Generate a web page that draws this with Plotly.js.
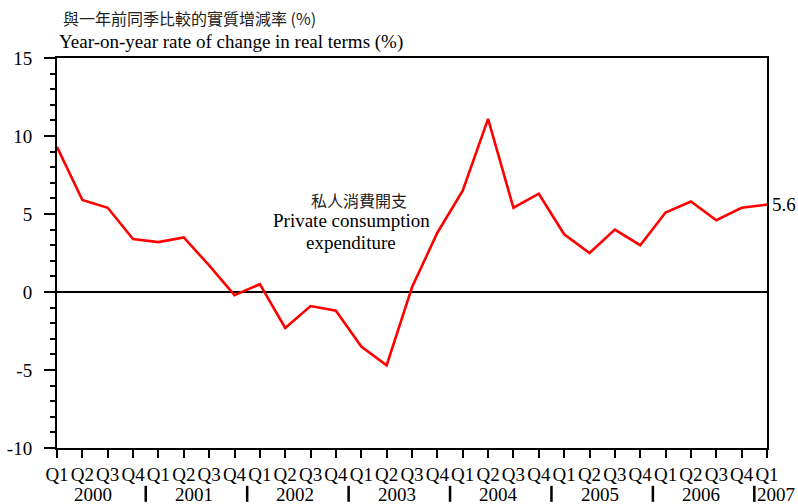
<!DOCTYPE html>
<html><head><meta charset="utf-8">
<script src="https://cdn.plot.ly/plotly-3.0.1.min.js"></script>
<style>body{margin:0;background:#fff}#c{width:798px;height:504px}</style>
</head><body><div id="c"></div>
<script>
const quarterLabels = ["Q1","Q2","Q3","Q4","Q1","Q2","Q3","Q4","Q1","Q2","Q3","Q4","Q1","Q2","Q3","Q4","Q1","Q2","Q3","Q4","Q1","Q2","Q3","Q4","Q1","Q2","Q3","Q4","Q1"];
const years = ["2000","2001","2002","2003","2004","2005","2006"];
const lastYear = "2007";
const values = [9.3,5.9,5.4,3.4,3.2,3.5,1.7,-0.2,0.5,-2.3,-0.9,-1.2,-3.5,-4.7,0.3,3.8,6.5,11.1,5.4,6.3,3.7,2.5,4.0,3.0,5.1,5.8,4.6,5.4,5.6];
const yTicks = [-10,-5,0,5,10,15];
const yTickText = ["-10","-5","0","5","10","15"];

const serif = "Liberation Serif";
const cjk = "Noto Sans CJK TC";
const idx = values.map((v,i)=>i);

const annotations = [
  {xref:'paper',yref:'paper',x:0.0,y:1.041,xanchor:'left',yanchor:'middle',showarrow:false,
   text:"Year-on-year rate of change in real terms (%)",font:{family:serif,size:19,color:'#000'}},
  {xref:'paper',yref:'paper',x:0.006,y:1.103,xanchor:'left',yanchor:'middle',showarrow:false,
   text:"與一年前同季比較的實質增減率 (%)",font:{family:cjk,size:16,color:'#222'}},
  {xref:'x',yref:'y',x:11.9,y:5.9,xanchor:'center',yanchor:'middle',showarrow:false,
   text:"私人消費開支",font:{family:cjk,size:16,color:'#222'}},
  {xref:'x',yref:'y',x:11.6,y:4.6,xanchor:'center',yanchor:'middle',showarrow:false,
   text:"Private consumption",font:{family:serif,size:19,color:'#000'}},
  {xref:'x',yref:'y',x:11.6,y:3.2,xanchor:'center',yanchor:'middle',showarrow:false,
   text:"expenditure",font:{family:serif,size:19,color:'#000'}},
  {xref:'x',yref:'y',x:values.length-1,y:values[values.length-1],xanchor:'left',yanchor:'middle',xshift:3,showarrow:false,
   text:String(values[values.length-1]),font:{family:serif,size:19,color:'#000'}}
];
years.forEach((yr,i)=>{
  annotations.push({xref:'x',yref:'paper',x:i*4+1.4,y:-0.118,xanchor:'center',yanchor:'middle',showarrow:false,
    text:yr,font:{family:serif,size:19,color:'#000'}});
});
annotations.push({xref:'x',yref:'paper',x:years.length*4-0.5,y:-0.118,xanchor:'left',yanchor:'middle',xshift:1,showarrow:false,
  text:lastYear,font:{family:serif,size:19,color:'#000'}});

const shapes = [];
for(let i=1;i<=years.length;i++){
  shapes.push({type:'line',xref:'x',yref:'paper',x0:i*4-0.5,x1:i*4-0.5,y0:-0.097,y1:-0.138,line:{color:'#000',width:2.5}});
}

Plotly.newPlot('c',[{
  x: idx, y: values, type:'scatter', mode:'lines',
  line:{color:'#ff0000',width:2.6}, hoverinfo:'skip'
}],{
  width:798,height:504,
  margin:{l:57,r:31,t:58,b:56},
  paper_bgcolor:'#fff',plot_bgcolor:'#fff',
  showlegend:false,
  font:{family:serif,color:'#000'},
  xaxis:{range:[0,values.length-1],tickmode:'array',tickvals:idx,ticktext:quarterLabels,tickangle:0,
    ticks:'outside',ticklen:8,tickwidth:2,tickcolor:'#000',showgrid:false,zeroline:false,
    showline:true,linecolor:'#000',linewidth:2,mirror:true,
    tickfont:{family:serif,size:19,color:'#000'},fixedrange:true},
  yaxis:{range:[-10,15],tickmode:'array',tickvals:yTicks,ticktext:yTickText,ticks:'outside',ticklen:11,tickwidth:2,tickcolor:'#000',
    minor:{dtick:1,ticks:'outside',ticklen:5,tickwidth:2,tickcolor:'#000',showgrid:false},
    ticklabelstandoff:8,
    showgrid:false,zeroline:true,zerolinecolor:'#000',zerolinewidth:2,
    showline:true,linecolor:'#000',linewidth:2,mirror:true,
    tickfont:{family:serif,size:19,color:'#000'},fixedrange:true},
  annotations:annotations,
  shapes:shapes
},{staticPlot:true});
</script></body></html>
